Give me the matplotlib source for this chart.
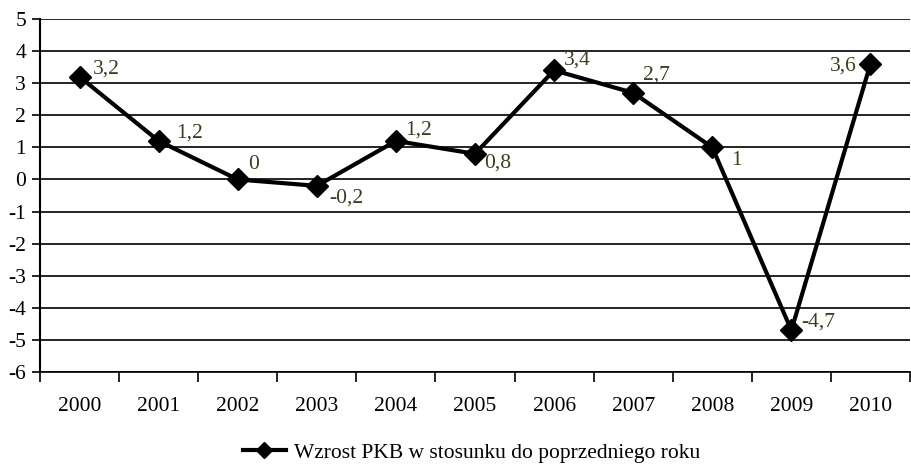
import matplotlib
matplotlib.use('agg')
import matplotlib.pyplot as plt

years = ['2000', '2001', '2002', '2003', '2004', '2005', '2006', '2007', '2008', '2009', '2010']
growth = [3.2, 1.2, 0.0, -0.2, 1.2, 0.8, 3.4, 2.7, 1.0, -4.7, 3.6]
series_name = 'Wzrost PKB w stosunku do poprzedniego roku'

# label offsets in pixels (dx, dy, ha)
label_pos = [
  (13, 8, 'left'), (18, 8, 'left'), (10, 15, 'left'), (12, -12, 'left'),
  (9, 11, 'left'), (9, -9, 'left'), (10, 10, 'left'), (10, 18, 'left'),
  (19, -13, 'left'), (10, 8, 'left'), (-14, -2, 'right'),
]

plt.rcParams['font.family'] = ['Liberation Serif', 'DejaVu Serif']
plt.rcParams['font.size'] = 15.5

fig = plt.figure(figsize=(9.11, 4.68), dpi=100)
ax = fig.add_axes([0.0439, 0.2051, 0.955, 0.7543])

x = list(range(len(years)))
ax.plot(x, growth, color='black', linewidth=3, marker='D', markersize=11,
        label=series_name, zorder=3, clip_on=False)

def fmt(v):
  s = f'{v:g}'
  return s.replace('.', ',')

for xi, v, (dx, dy, ha) in zip(x, growth, label_pos):
  ax.annotate(fmt(v), xy=(xi, v), xytext=(dx, dy), textcoords='offset pixels',
              ha=ha, va='center', color='#3d3d1f', fontsize=15.5)

ax.set_xlim(-0.5, len(years) - 0.5)
ax.set_ylim(-6, 5)
ax.set_yticks(range(-6, 6))
ax.set_yticklabels([str(i) for i in range(-6, 6)])
ax.yaxis.grid(True, color='black', linewidth=1.2)
ax.set_axisbelow(True)

ax.set_xticks(x)
ax.set_xticklabels(years)
ax.tick_params(axis='x', length=0, pad=18)
ax.set_xticks([i - 0.5 for i in range(len(years) + 1)], minor=True)
ax.tick_params(axis='x', which='minor', length=7, width=1.2, direction='out')
ax.tick_params(axis='y', length=6, width=1.2, direction='out', pad=4)

for s in ['top', 'right']:
  ax.spines[s].set_visible(False)
ax.spines['left'].set_linewidth(1.5)
ax.spines['bottom'].set_linewidth(1.2)

ax.legend(loc='center', bbox_to_anchor=(0.496, -0.228), frameon=False,
          handlelength=2.0, handletextpad=0.4, fontsize=15.5, markerscale=0.7)

plt.savefig('out.png', dpi=100)
